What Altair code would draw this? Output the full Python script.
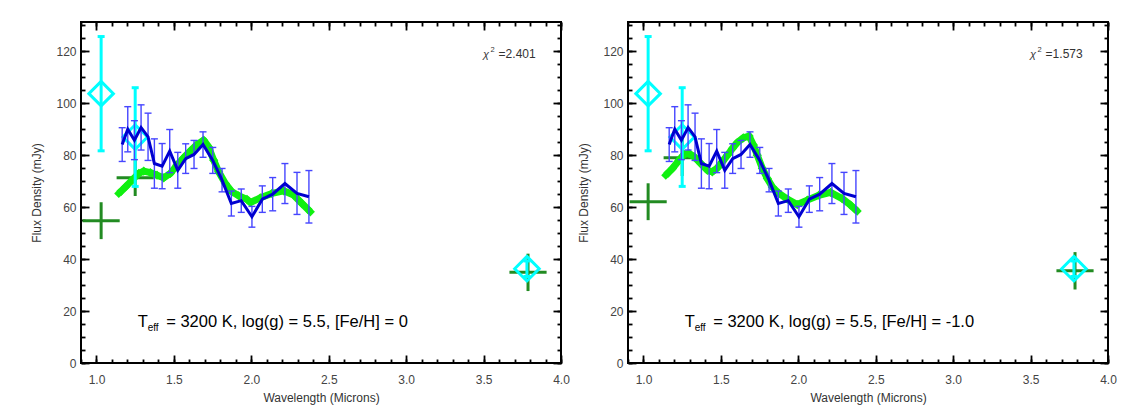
import altair as alt
import pandas as pd

# ---------------- data ----------------
# observed spectrum (blue, with error bars) - same in both panels
spec_wl = [1.166, 1.202, 1.245, 1.288, 1.333, 1.374, 1.424, 1.473, 1.525, 1.576, 1.630,
           1.688, 1.751, 1.811, 1.871, 1.935, 2.004, 2.071, 2.138, 2.217, 2.295, 2.372]
spec_flux = [84.1, 90.0, 85.8, 90.7, 87.1, 76.8, 75.8, 81.6, 74.2, 78.7, 80.3,
             84.1, 78.0, 70.4, 61.4, 62.5, 56.3, 63.1, 65.0, 69.1, 65.3, 64.0]
spec_err = [6.5, 8.7, 7.5, 8.7, 9.1, 9.5, 8.7, 8.3, 6.9, 5.7, 5.4,
            4.9, 5.0, 4.5, 4.8, 4.5, 4.0, 5.1, 6.4, 7.7, 8.1, 10.1]

# observed photometry (cyan diamonds)
phot_wl = [1.03, 1.25, 3.78]
phot_flux = [103.7, 87.0, 36.3]
phot_err = [22.0, 19.0, 3.0]

# model photometry (dark green crosses)
mphot_wl = [1.03, 1.25, 3.787]
mphot_wl_err = [0.12, 0.12, 0.12]
mphot_err = [7.1, 7.0, 7.2]
mphot_flux_1 = [54.8, 71.3, 34.9]
mphot_flux_2 = [62.1, 79.0, 35.5]

# model spectrum (bright green)
model_wl_1 = [1.144, 1.187, 1.230, 1.273, 1.305, 1.348, 1.391, 1.434, 1.477, 1.520, 1.563,
              1.606, 1.649, 1.692, 1.724, 1.757, 1.789, 1.832, 1.875, 1.918, 1.972, 1.994,
              2.058, 2.133, 2.209, 2.273, 2.327, 2.381]
model_flux_1 = [65.3, 67.8, 70.4, 73.0, 73.9, 73.3, 72.3, 71.3, 73.0, 76.2, 79.0,
                81.6, 84.1, 85.8, 83.2, 78.1, 73.6, 69.1, 65.9, 64.4, 63.0, 61.8,
                63.6, 65.3, 66.3, 64.7, 61.4, 58.2]
model_wl_2 = [1.144, 1.187, 1.230, 1.262, 1.294, 1.327, 1.370, 1.413, 1.445, 1.477, 1.509,
              1.542, 1.574, 1.606, 1.645, 1.682, 1.710, 1.735, 1.768, 1.800, 1.832, 1.875,
              1.929, 1.993, 2.058, 2.133, 2.208, 2.283, 2.337, 2.380]
model_flux_2 = [72.3, 74.9, 78.1, 80.3, 80.7, 79.4, 76.8, 74.2, 73.6, 75.1, 77.5,
                80.0, 82.6, 84.9, 86.7, 87.4, 83.9, 80.0, 74.9, 71.0, 67.8, 65.3,
                63.1, 61.0, 62.7, 64.6, 65.7, 63.3, 60.8, 58.5]

chi_values = ["2.401", "1.573"]
feh_values = ["0", "-1.0"]

x_major = [1.0, 1.5, 2.0, 2.5, 3.0, 3.5, 4.0]
x_minor = [round(0.9 + 0.1 * i, 2) for i in range(32)]
y_major = [0, 20, 40, 60, 80, 100, 120]
y_minor = list(range(0, 135, 5))

# ---------------- styling ----------------
FONT = "Liberation Sans"
CYAN = "#00ffff"
DKGREEN = "#228b22"
LIME = "#10f010"
BLUE = "#0000d0"
ERRBLUE = "#4646ff"

XS = alt.Scale(domain=[0.9, 4.0], nice=False, zero=False)
YS = alt.Scale(domain=[0, 131.3], nice=False, zero=False)

W, H = 480, 341


def axis_layer(xaxis, yaxis):
    d = pd.DataFrame({"x": [1.0], "y": [0.0]})
    return alt.Chart(d).mark_point(opacity=0).encode(
        x=alt.X("x:Q", scale=XS, axis=xaxis),
        y=alt.Y("y:Q", scale=YS, axis=yaxis),
    )


def ax(orient, values, size, labels=False, title=None, **kw):
    args = dict(orient=orient, values=values, offset=-size, tickSize=size,
                domain=False, grid=False, labels=labels, tickColor="black",
                tickWidth=1.8)
    args.update(kw)
    args["title"] = title
    return alt.Axis(**args)


def panel(model_wl, model_flux, mphot_flux, chi, feh):
    layers = []
    # axes (inward ticks on all four sides)
    layers.append(axis_layer(
        ax("bottom", x_major, 8, labels=True, title="Wavelength (Microns)",
           format=".1f", labelPadding=11, titlePadding=7, labelFontSize=12,
           titleFontSize=12, labelColor="#444444", titleColor="#333333",
           labelFont=FONT, titleFont=FONT, titleFontWeight="normal", labelFlush=False),
        ax("left", y_major, 8, labels=True, title="Flux Density (mJy)",
           labelPadding=5, titlePadding=12, labelFontSize=12, titleFontSize=12,
           labelColor="#444444", titleColor="#333333", labelFont=FONT,
           titleFont=FONT, titleFontWeight="normal"),
    ))
    layers.append(axis_layer(ax("bottom", x_minor, 4), ax("left", y_minor, 4)))
    layers.append(axis_layer(ax("top", x_major, 8), ax("right", y_major, 8)))
    layers.append(axis_layer(ax("top", x_minor, 4), ax("right", y_minor, 4)))

    # model photometry crosses
    mp = pd.DataFrame({
        "x": mphot_wl, "y": mphot_flux,
        "x0": [a - b for a, b in zip(mphot_wl, mphot_wl_err)],
        "x1": [a + b for a, b in zip(mphot_wl, mphot_wl_err)],
        "y0": [a - b for a, b in zip(mphot_flux, mphot_err)],
        "y1": [a + b for a, b in zip(mphot_flux, mphot_err)],
    })
    layers.append(alt.Chart(mp).mark_rule(color=DKGREEN, strokeWidth=3).encode(
        x=alt.X("x0:Q", scale=XS, axis=None), x2="x1:Q",
        y=alt.Y("y:Q", scale=YS, axis=None)))
    layers.append(alt.Chart(mp).mark_rule(color=DKGREEN, strokeWidth=3).encode(
        x=alt.X("x:Q", scale=XS, axis=None),
        y=alt.Y("y0:Q", scale=YS, axis=None), y2="y1:Q"))

    # model spectrum
    md = pd.DataFrame({"x": model_wl, "y": model_flux})
    layers.append(alt.Chart(md).mark_line(color=LIME, strokeWidth=7, strokeJoin="round").encode(
        x=alt.X("x:Q", scale=XS, axis=None), y=alt.Y("y:Q", scale=YS, axis=None)))
    layers.append(alt.Chart(md).mark_point(shape="diamond", filled=True, color=LIME,
                                           size=85, opacity=1).encode(
        x=alt.X("x:Q", scale=XS, axis=None), y=alt.Y("y:Q", scale=YS, axis=None)))

    # observed photometry (cyan)
    ph = pd.DataFrame({
        "x": phot_wl, "y": phot_flux,
        "y0": [a - b for a, b in zip(phot_flux, phot_err)],
        "y1": [a + b for a, b in zip(phot_flux, phot_err)],
    })
    layers.append(alt.Chart(ph).mark_rule(color=CYAN, strokeWidth=3).encode(
        x=alt.X("x:Q", scale=XS, axis=None),
        y=alt.Y("y0:Q", scale=YS, axis=None), y2="y1:Q"))
    for col in ["y0", "y1"]:
        layers.append(alt.Chart(ph).mark_tick(color=CYAN, orient="horizontal", size=7,
                                              thickness=3, opacity=1).encode(
            x=alt.X("x:Q", scale=XS, axis=None),
            y=alt.Y(f"{col}:Q", scale=YS, axis=None)))
    layers.append(alt.Chart(ph).mark_point(shape="diamond", filled=False, color=CYAN,
                                           size=600, strokeWidth=3, opacity=1).encode(
        x=alt.X("x:Q", scale=XS, axis=None), y=alt.Y("y:Q", scale=YS, axis=None)))

    # observed spectrum (blue)
    sp = pd.DataFrame({
        "x": spec_wl, "y": spec_flux,
        "y0": [a - b for a, b in zip(spec_flux, spec_err)],
        "y1": [a + b for a, b in zip(spec_flux, spec_err)],
    })
    layers.append(alt.Chart(sp).mark_rule(color=ERRBLUE, strokeWidth=1.4).encode(
        x=alt.X("x:Q", scale=XS, axis=None),
        y=alt.Y("y0:Q", scale=YS, axis=None), y2="y1:Q"))
    for col in ["y0", "y1"]:
        layers.append(alt.Chart(sp).mark_tick(color=ERRBLUE, orient="horizontal", size=7,
                                              thickness=1.4, opacity=1).encode(
            x=alt.X("x:Q", scale=XS, axis=None),
            y=alt.Y(f"{col}:Q", scale=YS, axis=None)))
    layers.append(alt.Chart(sp).mark_line(color=BLUE, strokeWidth=3).encode(
        x=alt.X("x:Q", scale=XS, axis=None), y=alt.Y("y:Q", scale=YS, axis=None)))

    # annotation text
    lab = pd.DataFrame({"x": [1.266], "y": [14.0]})
    base = alt.Chart(lab).encode(x=alt.X("x:Q", scale=XS, axis=None),
                                 y=alt.Y("y:Q", scale=YS, axis=None))
    layers.append(base.mark_text(text="T", align="left", baseline="alphabetic",
                                 font=FONT, fontSize=16.5, color="black"))
    layers.append(base.mark_text(text="eff", align="left", baseline="alphabetic",
                                 font=FONT, fontSize=10, color="black", dx=10, dy=4))
    layers.append(base.mark_text(text=f"= 3200 K, log(g) = 5.5, [Fe/H] = {feh}",
                                 align="left", baseline="alphabetic", font=FONT,
                                 fontSize=16.5, color="black", dx=28.5))

    chi_df = pd.DataFrame({"x": [3.497], "y": [117.6]})
    cb = alt.Chart(chi_df).encode(x=alt.X("x:Q", scale=XS, axis=None),
                                  y=alt.Y("y:Q", scale=YS, axis=None))
    layers.append(cb.mark_text(text="χ", align="left", baseline="alphabetic",
                               font=FONT, fontSize=11, fontStyle="italic", color="#333333"))
    layers.append(cb.mark_text(text="2", align="left", baseline="alphabetic",
                               font=FONT, fontSize=7.5, color="#333333", dx=7.5, dy=-6))
    layers.append(cb.mark_text(text=f"={chi}", align="left", baseline="alphabetic",
                               font=FONT, fontSize=12, color="#333333", dx=15.5))

    return alt.layer(*layers).resolve_axis(x="independent", y="independent").properties(
        width=W, height=H)


p1 = panel(model_wl_1, model_flux_1, mphot_flux_1, chi_values[0], feh_values[0])
p2 = panel(model_wl_2, model_flux_2, mphot_flux_2, chi_values[1], feh_values[1])

chart = alt.hconcat(p1, p2, spacing=5).properties(
    padding={"left": 21, "top": 12, "right": 5, "bottom": 5},
    background="white",
).configure_view(stroke="black", strokeWidth=2)

chart.save("out.html", embed_options={"renderer": "svg", "actions": False})
